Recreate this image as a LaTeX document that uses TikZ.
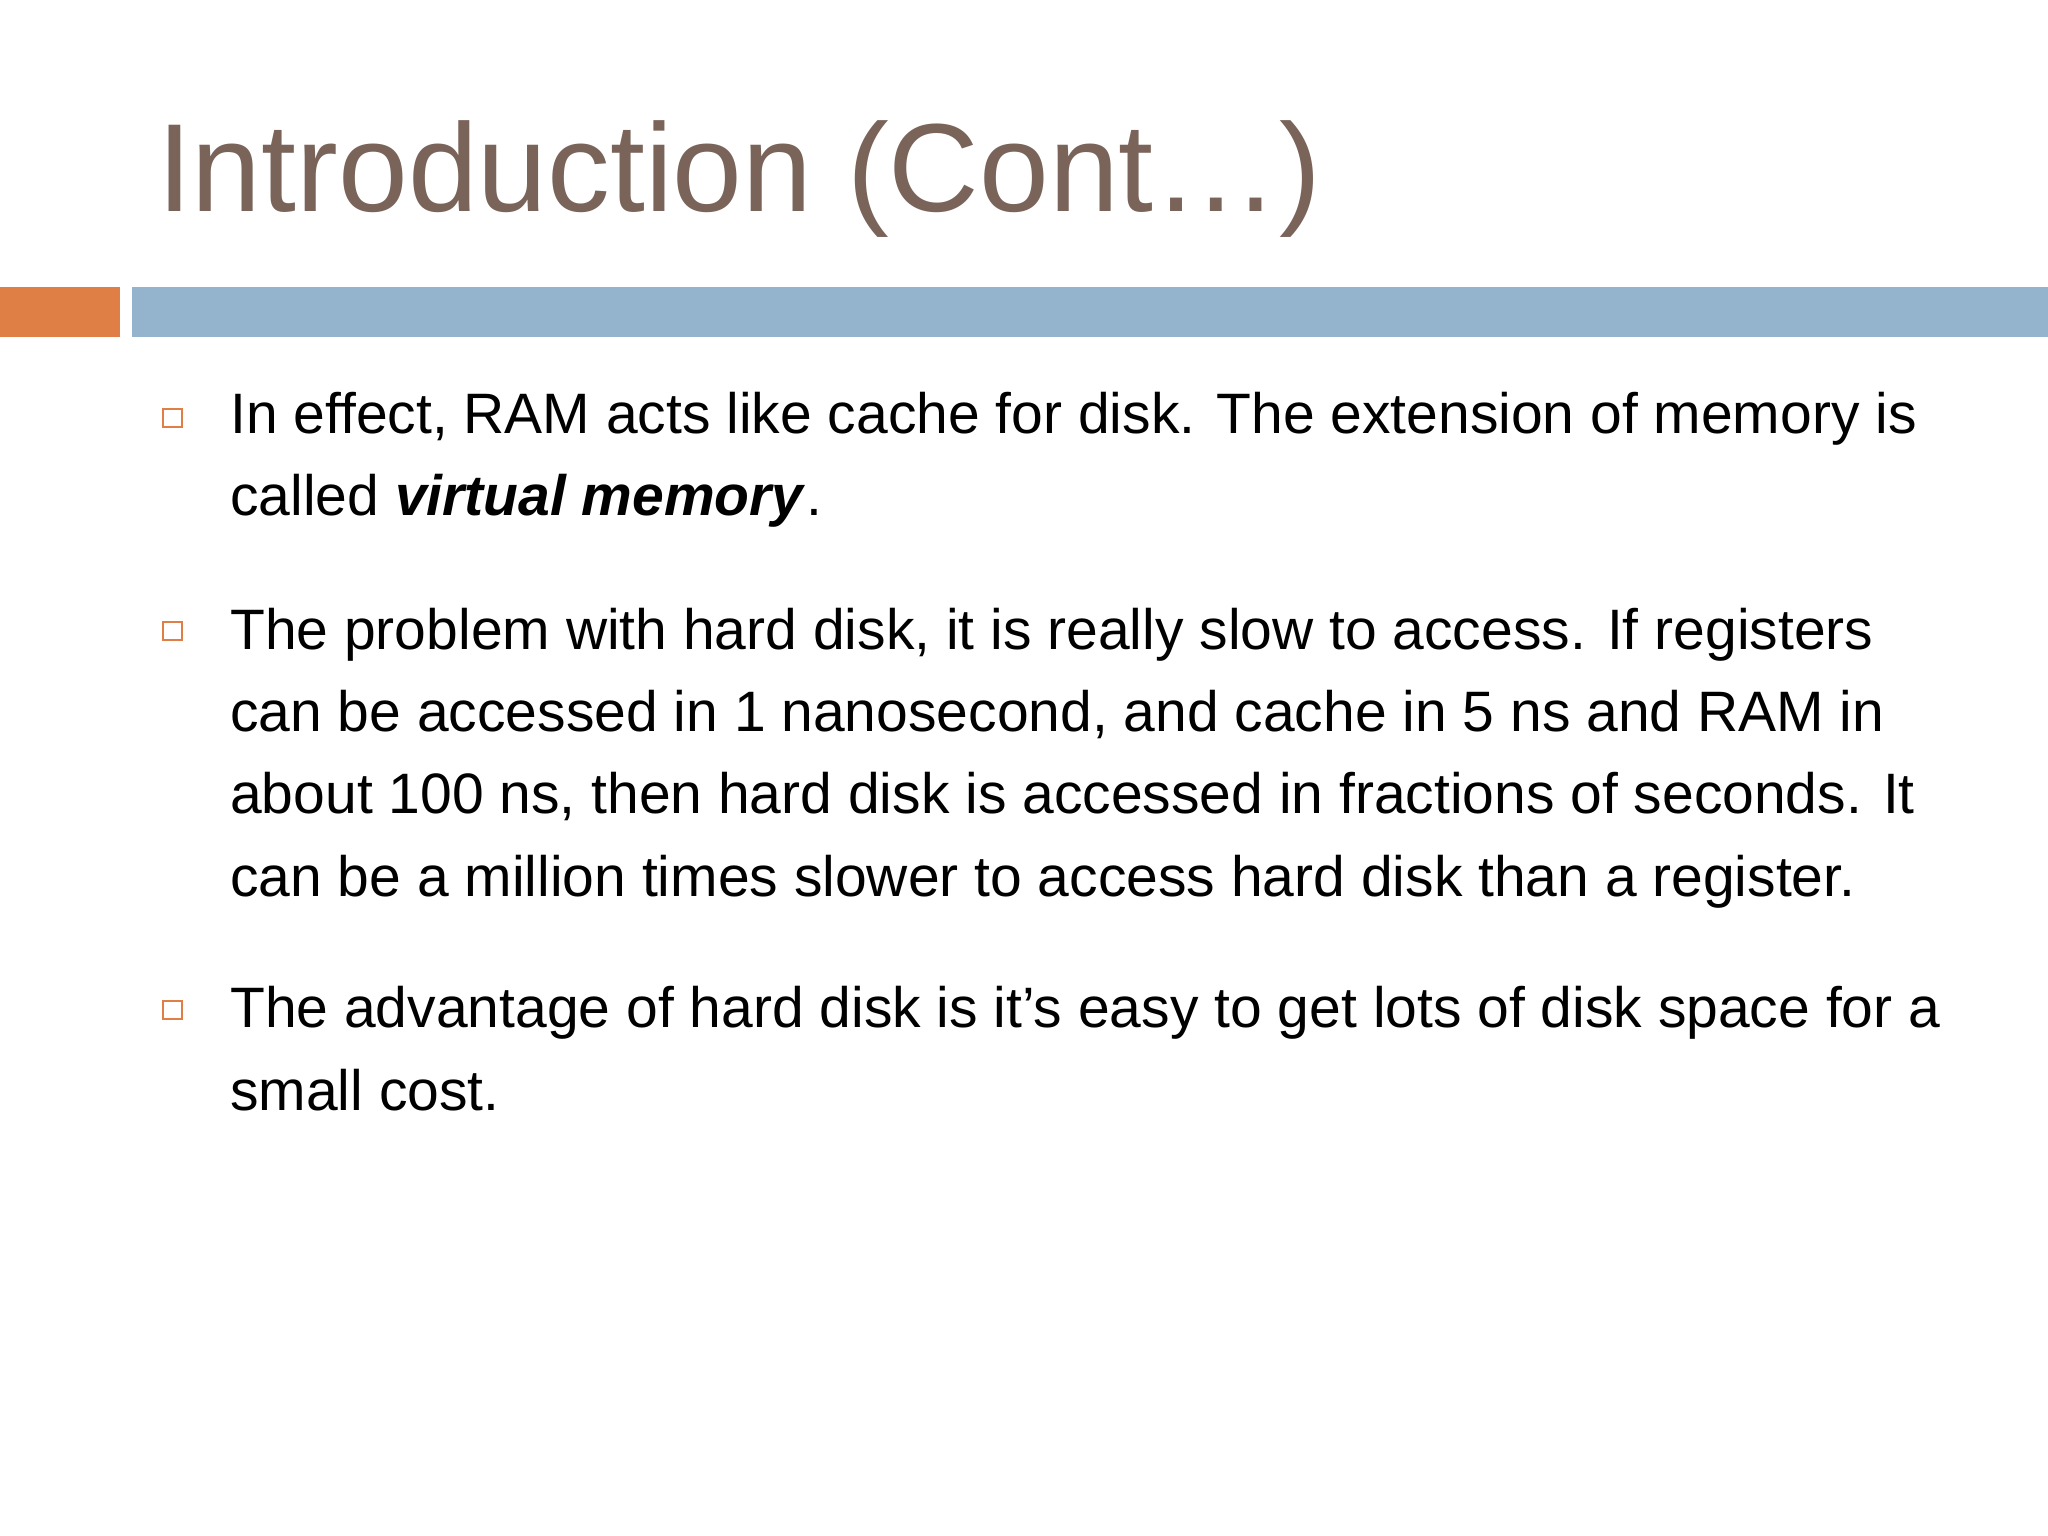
\documentclass[tikz,border=0pt]{standalone}
\usepackage{fontspec}
\setmainfont{Liberation Sans}
\definecolor{ttl}{HTML}{7A645A}
\definecolor{org}{HTML}{E07F45}
\definecolor{blu}{HTML}{94B4CE}
\begin{document}
\begin{tikzpicture}[x=0.653pt,y=-0.653pt,
  ln/.style={anchor=base west,inner sep=0pt,font=\fontsize{28.5}{34}\selectfont},
  bul/.style={draw=org,line width=1pt,fill=white}]
\useasboundingbox (0,0) rectangle (1568,1176);
\fill[white] (0,0) rectangle (1568,1176);
\node[anchor=base west,inner sep=0pt,text=ttl,font=\fontsize{62.7}{66}\selectfont] (title) at (120,162) {Introduction (Cont…)};
\fill[org] (0,220) rectangle (92,258);
\fill[blu] (101,220) rectangle (1568,258);
\draw[bul] (125,313) rectangle (139,327);
\draw[bul] (125,476) rectangle (139,490);
\draw[bul] (125,766) rectangle (139,780);
\node[ln] (a1) at (176,332) {In effect, RAM acts like cache for disk. The extension of memory is};
\node[ln] (a2) at (176,395) {called \textbf{\textit{virtual memory}}.};
\node[ln] (b1) at (176,497) {The problem with hard disk, it is really slow to access. If registers};
\node[ln] (b2) at (176,560) {can be accessed in 1 nanosecond, and cache in 5 ns and RAM in};
\node[ln] (b3) at (176,623) {about 100 ns, then hard disk is accessed in fractions of seconds. It};
\node[ln] (b4) at (176,686) {can be a million times slower to access hard disk than a register.};
\node[ln] (c1) at (176,787) {The advantage of hard disk is it\symbol{39}s easy to get lots of disk space for a};
\node[ln] (c2) at (176,850) {small cost.};
\end{tikzpicture}
\end{document}
